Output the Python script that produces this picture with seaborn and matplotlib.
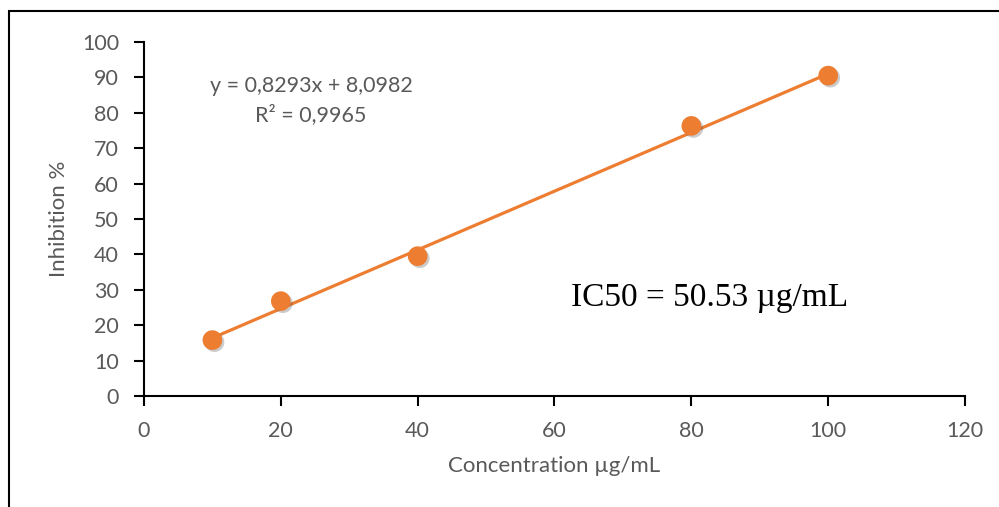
import matplotlib
matplotlib.use("Agg")
import matplotlib.pyplot as plt
import matplotlib.patheffects as pe
import seaborn as sns
import pandas as pd

# Data
concentration = [10, 20, 40, 80, 100]
inhibition = [15.8, 26.8, 39.5, 76.3, 90.5]
slope = 0.8293
intercept = 8.0982
equation_text = "y = 0,8293x + 8,0982"
r2_text = "R² = 0,9965"
ic50_text = "IC50 = 50.53 µg/mL"
x_ticks = [0, 20, 40, 60, 80, 100, 120]
y_ticks = [0, 10, 20, 30, 40, 50, 60, 70, 80, 90, 100]

sns.set_theme(style="white")
plt.rcParams['font.family'] = ['Lato', 'DejaVu Sans']

orange = "#ED7D31"
gray = "#595959"

fig = plt.figure(figsize=(9.99, 5.07), dpi=100)
ax = fig.add_axes([0.1441, 0.2189, 0.966 - 0.1441, 0.9172 - 0.2189])

df = pd.DataFrame({"x": concentration, "y": inhibition})
trend_x = [min(concentration), max(concentration)]
trend = pd.DataFrame({"x": trend_x, "y": [slope * v + intercept for v in trend_x]})

sns.lineplot(data=trend, x="x", y="y", ax=ax, color=orange, linewidth=2.3, zorder=2)
sns.scatterplot(data=df, x="x", y="y", ax=ax, color=orange, s=200, edgecolor="none", zorder=3,
                path_effects=[pe.SimplePatchShadow(offset=(1.5, -1.5), alpha=0.3, shadow_rgbFace="#555555"),
                              pe.Normal()])

ax.set_xlim(0, 120)
ax.set_ylim(0, 100)
ax.set_xticks(x_ticks)
ax.set_yticks(y_ticks)
ax.tick_params(axis="both", direction="out", length=7, width=1.5, color="black",
               labelsize=15.5, labelcolor=gray, left=True, bottom=True)
ax.tick_params(axis="x", pad=11)
ax.tick_params(axis="y", pad=11)

for s in ["top", "right"]:
    ax.spines[s].set_visible(False)
for s in ["left", "bottom"]:
    ax.spines[s].set_color("black")
    ax.spines[s].set_linewidth(1.5)

ax.set_xlabel("Concentration µg/mL", fontsize=16, color=gray, labelpad=11)
ax.set_ylabel("Inhibition %", fontsize=16, color=gray, labelpad=9)

ax.text(24.4, 87.6, equation_text, fontsize=15.5, color=gray, ha="center", va="center")
ax.text(24.4, 79.4, r2_text, fontsize=15.5, color=gray, ha="center", va="center")
ax.text(82.6, 27.7, ic50_text, fontsize=24, color="black", ha="center", va="center",
        family=["Liberation Serif", "DejaVu Serif"])

# Outer border (left and top visible)
fig.patches.append(plt.Rectangle((9 / 999, -0.1), 1.2, 1.1 - 11 / 507,
                                 transform=fig.transFigure, fill=False,
                                 edgecolor="black", linewidth=1.5))

fig.savefig("out.png", dpi=100)
